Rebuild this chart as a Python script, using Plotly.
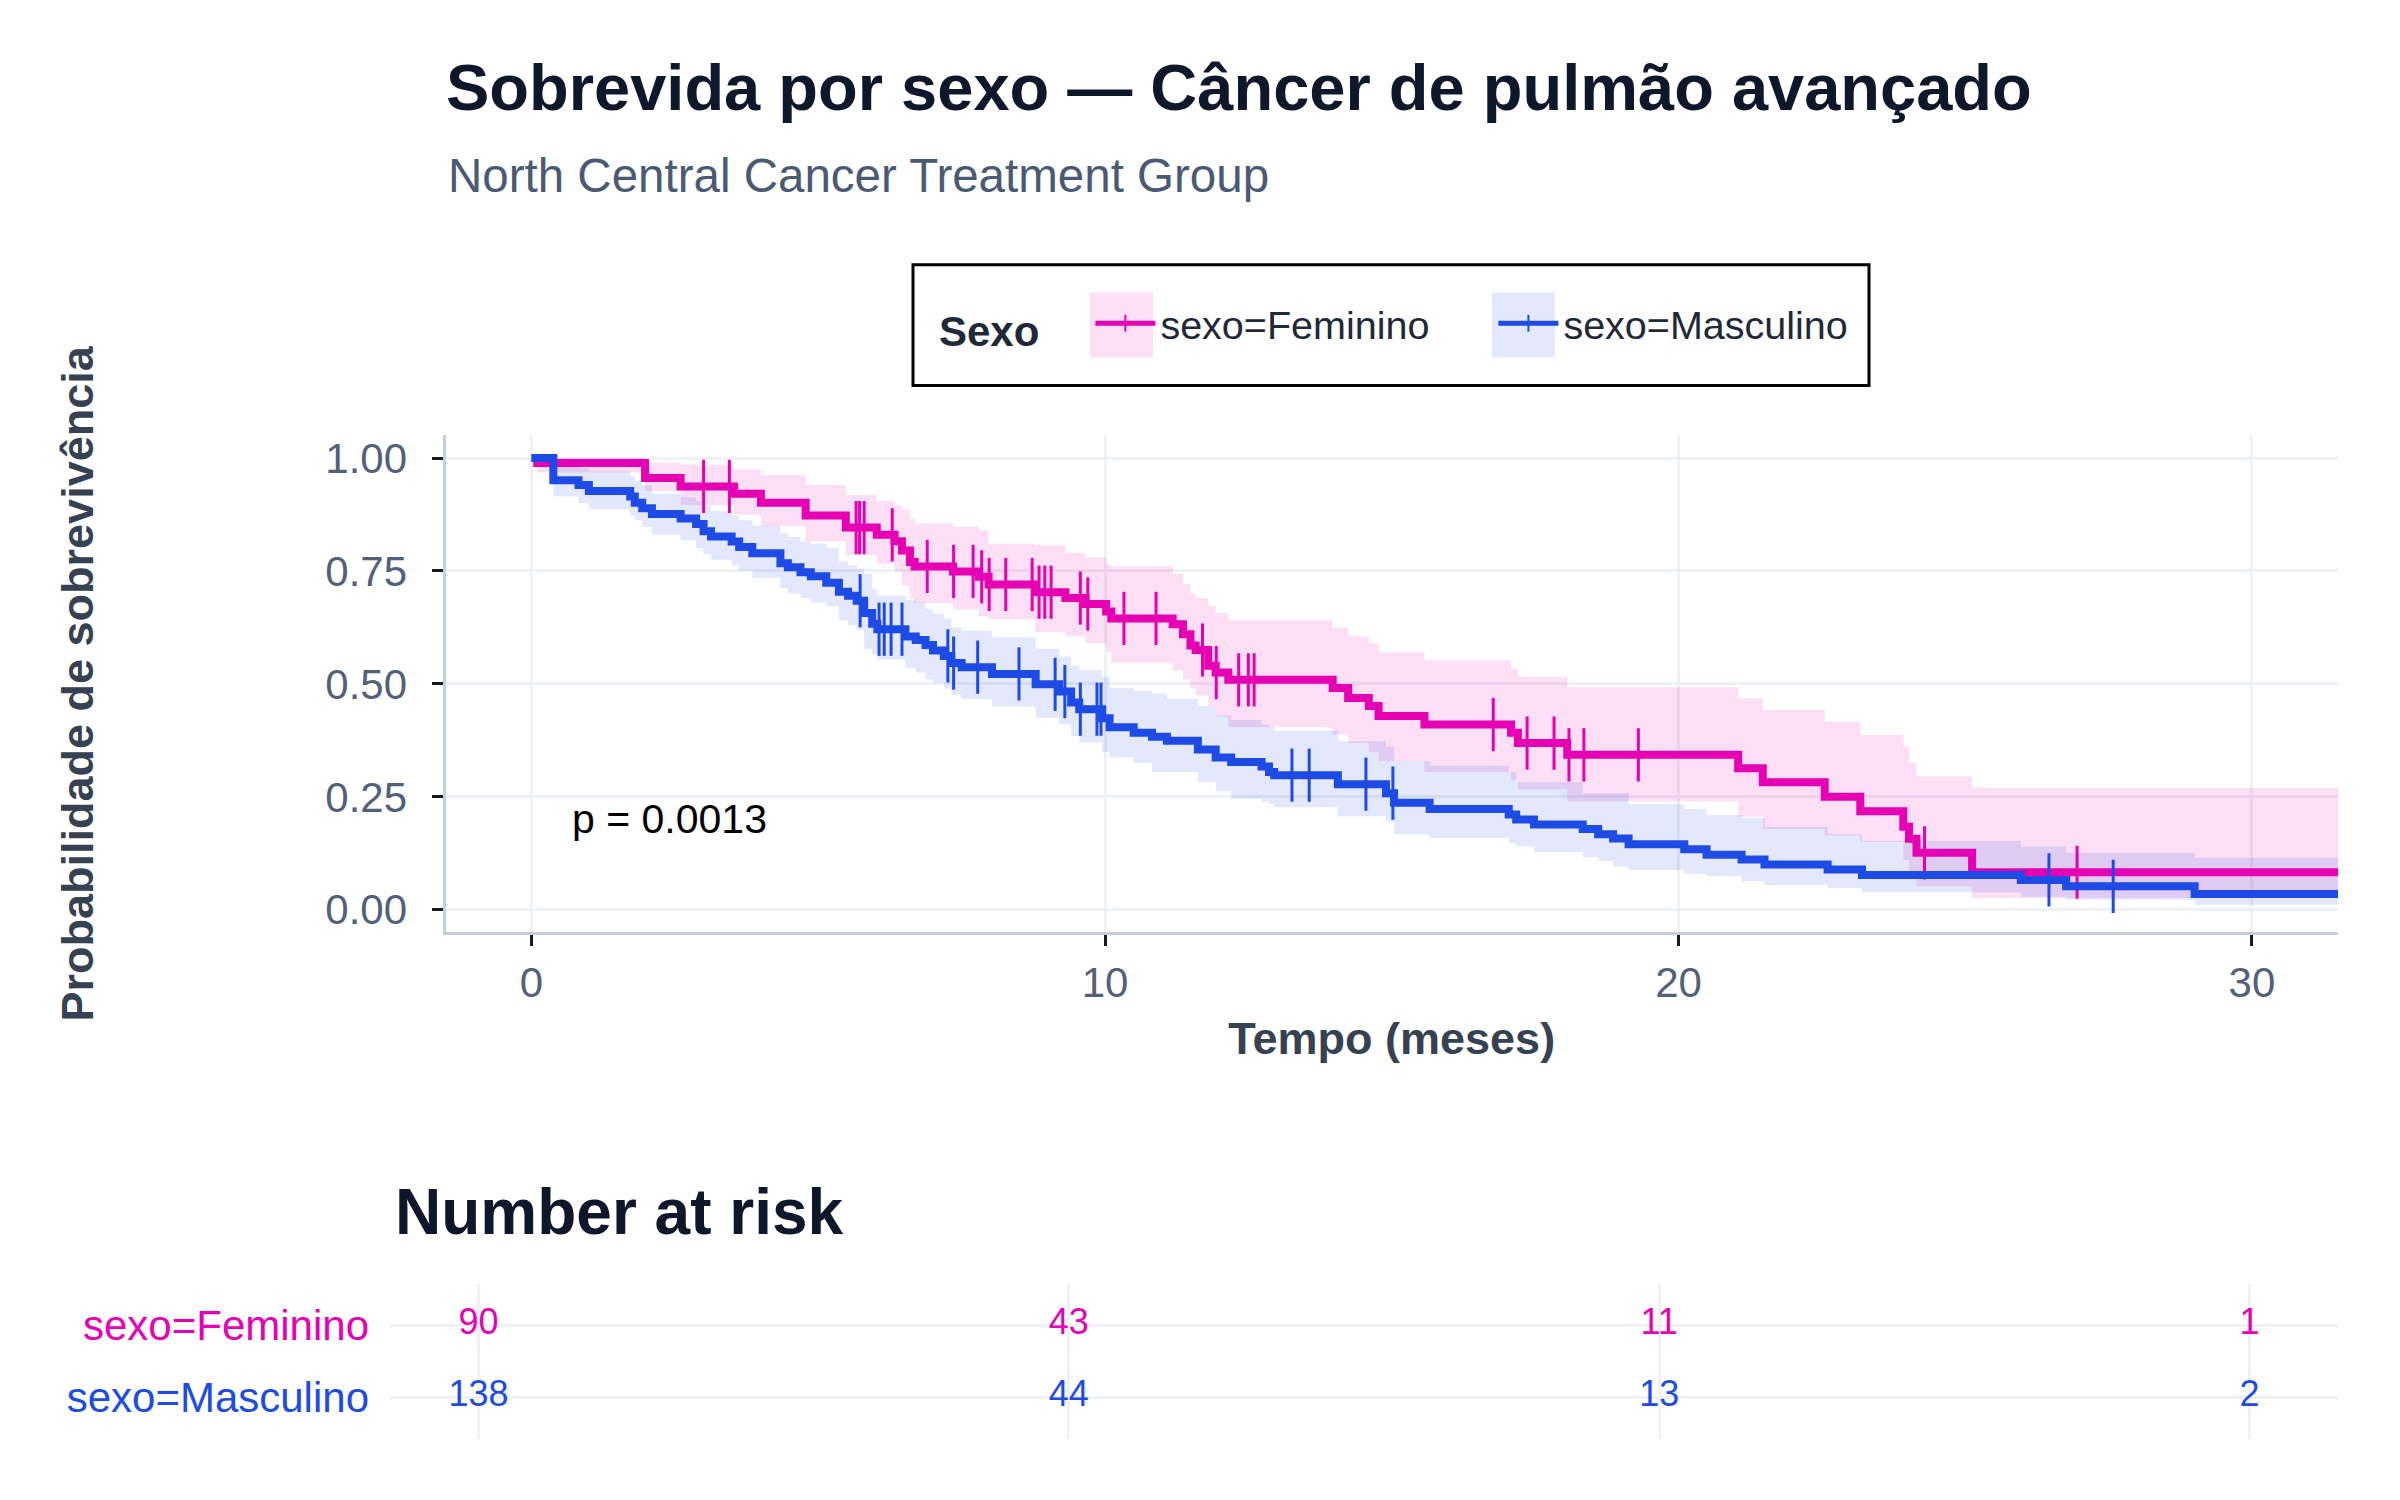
import numpy as np
import plotly.graph_objects as go

# ---------------- data ----------------
# Kaplan-Meier, sexo=Feminino : step times (months), survival, CI lower, CI upper
fem_time = [0, 0.1, 1.98, 2.6, 3.53, 4.0, 4.78, 5.48, 6.02, 6.33, 6.46, 6.6, 6.68, 7.35, 7.8, 7.97,
            8.78, 9.31, 9.66, 10.02, 10.11, 11.18, 11.36, 11.49, 11.58, 11.8, 11.93, 12.15, 13.97,
            14.24, 14.6, 14.77, 15.57, 17.08, 17.2, 18.06, 21.04, 21.47, 22.55, 23.17, 23.92,
            24.02, 24.15, 25.12, 31.7]
fem_surv = [1.0, 0.989, 0.956, 0.937, 0.921, 0.901, 0.873, 0.846, 0.83, 0.816, 0.795, 0.77, 0.76,
            0.749, 0.737, 0.72, 0.703, 0.69, 0.677, 0.66, 0.645, 0.632, 0.61, 0.585, 0.575, 0.54,
            0.525, 0.509, 0.491, 0.469, 0.451, 0.429, 0.41, 0.392, 0.369, 0.343, 0.313, 0.282,
            0.25, 0.218, 0.184, 0.157, 0.126, 0.083, 0.083]
fem_lower = [1.0, 0.968, 0.927, 0.896, 0.875, 0.849, 0.816, 0.785, 0.766, 0.749, 0.718, 0.689,
             0.679, 0.665, 0.65, 0.643, 0.615, 0.605, 0.59, 0.571, 0.547, 0.53, 0.51, 0.49, 0.475,
             0.451, 0.428, 0.404, 0.388, 0.369, 0.349, 0.329, 0.305, 0.286, 0.266, 0.24, 0.206,
             0.179, 0.165, 0.15, 0.11, 0.085, 0.052, 0.026, 0.026]
fem_upper = [1.0, 1.0, 0.99, 0.985, 0.975, 0.962, 0.94, 0.918, 0.905, 0.895, 0.886, 0.865, 0.855,
             0.848, 0.84, 0.81, 0.807, 0.79, 0.78, 0.765, 0.76, 0.743, 0.72, 0.70, 0.69, 0.672,
             0.657, 0.641, 0.625, 0.605, 0.59, 0.57, 0.552, 0.534, 0.515, 0.493, 0.468, 0.442,
             0.416, 0.387, 0.361, 0.326, 0.295, 0.27, 0.27]
fem_censor = [3.0, 3.45, 5.66, 5.72, 5.8, 6.29, 6.9, 7.36, 7.7, 7.85, 7.98, 8.27, 8.73, 8.85, 8.95,
              9.06, 9.57, 9.7, 10.33, 10.89, 11.7, 11.94, 12.33, 12.5, 12.6, 16.77, 17.36, 17.83,
              18.09, 18.35, 19.3, 24.29, 26.95]

# Kaplan-Meier, sexo=Masculino
mas_time = [0, 0.38, 0.82, 1.0, 1.72, 1.8, 1.93, 2.1, 2.6, 2.87, 3.0, 3.13, 3.49, 3.62, 3.85, 4.34,
            4.47, 4.69, 4.87, 5.14, 5.36, 5.52, 5.67, 5.8, 5.94, 6.03, 6.52, 6.7, 6.87, 7.0, 7.19,
            7.32, 7.5, 8.03, 8.79, 9.2, 9.41, 9.55, 9.95, 10.08, 10.5, 10.82, 11.08, 11.62, 11.93,
            12.2, 12.73, 12.86, 12.95, 14.06, 14.9, 15.04, 15.66, 17.04, 17.17, 17.48, 18.33, 18.6,
            18.86, 19.13, 20.1, 20.49, 21.1, 21.5, 22.6, 23.2, 25.97, 26.76, 29.0, 33.6]
mas_surv = [1.0, 0.951, 0.94, 0.927, 0.915, 0.901, 0.889, 0.876, 0.866, 0.854, 0.838, 0.826, 0.815,
            0.803, 0.789, 0.767, 0.758, 0.747, 0.738, 0.724, 0.704, 0.695, 0.684, 0.657, 0.633,
            0.621, 0.605, 0.597, 0.586, 0.574, 0.562, 0.546, 0.537, 0.522, 0.499, 0.483, 0.459,
            0.444, 0.424, 0.404, 0.392, 0.383, 0.374, 0.355, 0.337, 0.327, 0.317, 0.305, 0.298,
            0.278, 0.258, 0.237, 0.223, 0.211, 0.2, 0.189, 0.179, 0.167, 0.158, 0.145, 0.134,
            0.122, 0.111, 0.100, 0.089, 0.077, 0.066, 0.052, 0.035, 0.035]
mas_lower = [1.0, 0.915, 0.90, 0.886, 0.872, 0.862, 0.848, 0.83, 0.818, 0.80, 0.787, 0.775, 0.762,
             0.751, 0.735, 0.712, 0.70, 0.69, 0.68, 0.672, 0.641, 0.63, 0.62, 0.578, 0.565, 0.554,
             0.535, 0.525, 0.51, 0.503, 0.49, 0.475, 0.466, 0.45, 0.425, 0.41, 0.385, 0.37, 0.349,
             0.337, 0.325, 0.305, 0.305, 0.282, 0.262, 0.246, 0.24, 0.234, 0.227, 0.207, 0.195,
             0.167, 0.159, 0.148, 0.14, 0.128, 0.116, 0.108, 0.096, 0.088, 0.08, 0.074, 0.063,
             0.055, 0.048, 0.038, 0.029, 0.022, 0.011, 0.011]
mas_upper = [1.0, 0.987, 0.978, 0.97, 0.96, 0.949, 0.94, 0.921, 0.913, 0.905, 0.893, 0.882, 0.873,
             0.862, 0.85, 0.834, 0.825, 0.815, 0.81, 0.80, 0.771, 0.762, 0.755, 0.743, 0.71, 0.696,
             0.686, 0.68, 0.665, 0.655, 0.645, 0.625, 0.618, 0.603, 0.578, 0.56, 0.54, 0.53, 0.515,
             0.491, 0.485, 0.479, 0.467, 0.451, 0.43, 0.42, 0.41, 0.404, 0.396, 0.373, 0.361,
             0.329, 0.319, 0.305, 0.282, 0.282, 0.258, 0.258, 0.258, 0.234, 0.223, 0.21, 0.203,
             0.183, 0.167, 0.152, 0.14, 0.126, 0.115, 0.115]
mas_censor = [5.73, 6.06, 6.15, 6.27, 6.46, 7.26, 7.36, 7.78, 8.5, 9.13, 9.3, 9.57, 9.86, 9.93,
              13.26, 13.56, 14.55, 15.02, 26.46, 27.58]

# Number at risk table
risk_times = [0, 10, 20, 30]
risk_fem = [90, 43, 11, 1]
risk_mas = [138, 44, 13, 2]

group_names = ["sexo=Feminino", "sexo=Masculino"]
x_ticks = [0, 10, 20, 30]
y_ticks = [0, 0.25, 0.5, 0.75, 1.0]
p_label = "p = 0.0013"

# ---------------- style ----------------
FONT = "Liberation Sans"
PINK = "#E600B4"
BLUE = "#1E4AE6"
PINK_FILL = "rgba(230,0,180,0.13)"
BLUE_FILL = "rgba(30,74,230,0.125)"
GRID = "#EEF1F6"
AXLINE = "#C4CEDB"
TICKTXT = "#52607A"
AXTITLE = "#364152"
W, H = 2400, 1500


def step_value(times, values, t):
    i = int(np.searchsorted(np.asarray(times), t, side="right")) - 1
    return values[max(i, 0)]


fig = go.Figure()

# confidence bands (lower then upper filled to it)
for t, lo, hi, fc, nm in [(fem_time, fem_lower, fem_upper, PINK_FILL, group_names[0]),
                          (mas_time, mas_lower, mas_upper, BLUE_FILL, group_names[1])]:
    fig.add_trace(go.Scatter(x=t, y=lo, mode="lines", line=dict(width=0, shape="hv"),
                             hoverinfo="skip", showlegend=False, legendgroup=nm))
    fig.add_trace(go.Scatter(x=t, y=hi, mode="lines", line=dict(width=0, shape="hv"),
                             fill="tonexty", fillcolor=fc, hoverinfo="skip",
                             showlegend=False, legendgroup=nm))

# survival curves + censor marks
for t, s, cens, col, nm in [(fem_time, fem_surv, fem_censor, PINK, group_names[0]),
                            (mas_time, mas_surv, mas_censor, BLUE, group_names[1])]:
    fig.add_trace(go.Scatter(x=t, y=s, mode="lines+markers", name=nm, legendgroup=nm,
                             line=dict(color=col, width=8, shape="hv"),
                             marker=dict(symbol="line-ns", size=0.001, color=col,
                                         line=dict(color=col, width=3))))
    cy = [step_value(t, s, c) for c in cens]
    fig.add_trace(go.Scatter(x=cens, y=cy, mode="markers", showlegend=False, legendgroup=nm,
                             marker=dict(symbol="line-ns", size=38, color=col,
                                         line=dict(color=col, width=3)),
                             hoverinfo="skip"))

# risk table numbers
for vals, col, row in [(risk_fem, PINK, 1), (risk_mas, BLUE, 0)]:
    fig.add_trace(go.Scatter(x=risk_times, y=[row] * len(risk_times), mode="text",
                             text=[str(v) for v in vals], xaxis="x2", yaxis="y2",
                             textfont=dict(family=FONT, size=36, color=col),
                             showlegend=False, hoverinfo="skip", cliponaxis=False))

x_dom_main = [445.5 / W, 2338 / W]
y_dom_main = [1 - 932.6 / H, 1 - 435 / H]
x_dom_risk = [390 / W, 2338 / W]
y_dom_risk = [1 - 1440 / H, 1 - 1285 / H]

fig.update_layout(
    width=W, height=H, autosize=False,
    margin=dict(l=0, r=0, t=0, b=0),
    paper_bgcolor="white", plot_bgcolor="white",
    font=dict(family=FONT, size=40, color="#1F2937"),
    title=dict(text="Sobrevida por sexo — Câncer de pulmão avançado",
               font=dict(family=FONT, size=65, weight=700, color="#0F172A"),
               x=446 / W, xanchor="left", xref="container",
               y=1 - 87 / H, yanchor="middle", yref="container"),
    xaxis=dict(domain=x_dom_main, range=[-1.5, 31.5], tickvals=x_ticks,
               showgrid=True, gridcolor=GRID, gridwidth=2.5, zeroline=False,
               showline=True, linecolor=AXLINE, linewidth=3,
               ticks="outside", ticklen=11, tickwidth=2.5, tickcolor="#1A1A1A",
               tickfont=dict(size=42, color=TICKTXT),
               title=dict(text="Tempo (meses)", standoff=18,
                          font=dict(size=45, weight=700, color=AXTITLE)),
               anchor="y"),
    yaxis=dict(domain=y_dom_main, range=[-0.05, 1.05], tickvals=y_ticks, tickformat=".2f",
               showgrid=True, gridcolor=GRID, gridwidth=2.5, zeroline=False,
               showline=True, linecolor=AXLINE, linewidth=3,
               ticks="outside", ticklen=11, tickwidth=2.5, tickcolor="#1A1A1A",
               tickfont=dict(size=42, color=TICKTXT), ticklabelstandoff=16,
               title=dict(text="Probabilidade de sobrevivência", standoff=218,
                          font=dict(size=45, weight=700, color=AXTITLE)),
               anchor="x"),
    xaxis2=dict(domain=x_dom_risk, range=[-1.5, 31.5], tickvals=x_ticks,
                showticklabels=False, ticks="", showgrid=True, gridcolor=GRID, gridwidth=2.5,
                zeroline=False, showline=False, anchor="y2"),
    yaxis2=dict(domain=y_dom_risk, range=[-0.58, 1.57], tickvals=[1, 0],
                ticktext=[f'<span style="color:{PINK}">{group_names[0]}</span>',
                          f'<span style="color:{BLUE}">{group_names[1]}</span>'],
                tickfont=dict(size=42), ticks="", ticklabelstandoff=20,
                showgrid=True, gridcolor=GRID, gridwidth=2.5, zeroline=False,
                showline=False, anchor="x2"),
    legend=dict(orientation="h", x=937 / W, xanchor="left", y=1 - 323 / H, yanchor="middle",
                bgcolor="rgba(0,0,0,0)", borderwidth=0, itemwidth=60, itemsizing="constant",
                indentation=43, entrywidth=285, entrywidthmode="pixels",
                font=dict(size=39.5, color="#1F2937"),
                title=dict(text="Sexo", side="left",
                           font=dict(size=42, weight=700, color="#1F2937"))),
    showlegend=True,
)

annotations = [
    dict(text="North Central Cancer Treatment Group", xref="paper", yref="paper",
         x=446 / W, y=1 - 174.5 / H, xanchor="left", yanchor="middle", showarrow=False,
         font=dict(size=47.5, color="#4B5A73")),
    dict(text="Number at risk", xref="paper", yref="paper", x=393 / W, y=1 - 1213 / H,
         xanchor="left", yanchor="middle", showarrow=False,
         font=dict(size=64, weight=700, color="#0F172A")),
    dict(text=p_label, xref="x", yref="y", x=0.67, y=0.2, xanchor="left", yanchor="middle",
         showarrow=False, font=dict(size=41, color="#000000")),
]
fig.update_layout(annotations=annotations)

# legend frame and key backgrounds
shapes = [
    dict(type="rect", xref="paper", yref="paper", x0=913 / W, x1=1869 / W,
         y0=1 - 385 / H, y1=1 - 264 / H, line=dict(color="black", width=3),
         fillcolor="rgba(0,0,0,0)", layer="above"),
    dict(type="rect", xref="paper", yref="paper", x0=1090 / W, x1=1153 / W,
         y0=1 - 357 / H, y1=1 - 292 / H, line=dict(width=0), fillcolor=PINK_FILL, layer="below"),
    dict(type="rect", xref="paper", yref="paper", x0=1492 / W, x1=1555 / W,
         y0=1 - 357 / H, y1=1 - 292 / H, line=dict(width=0), fillcolor=BLUE_FILL, layer="below"),
]
fig.update_layout(shapes=shapes)

fig.write_html("out.html", config={"displayModeBar": False},
               post_script="document.body.style.margin='0px';")
